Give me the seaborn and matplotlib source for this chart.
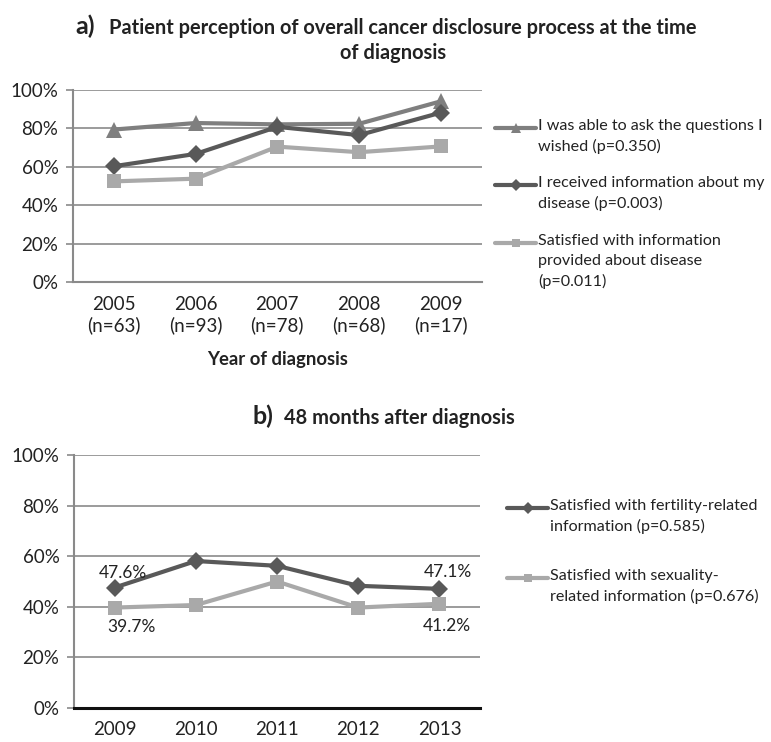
import numpy as np
import pandas as pd
import seaborn as sns
from matplotlib import pyplot as plt
from matplotlib.ticker import FixedLocator
from matplotlib.lines import Line2D

# panel a data
years_a = ["2005", "2006", "2007", "2008", "2009"]
n_a = ["(n=63)", "(n=93)", "(n=78)", "(n=68)", "(n=17)"]
ask_questions = [79.4, 82.8, 82.1, 82.4, 94.1]
received_info = [60.3, 66.7, 80.8, 76.5, 88.2]
satisfied_info = [52.4, 53.8, 70.5, 67.6, 70.6]
labels_a = ["I was able to ask the questions I\nwished (p=0.350)",
            "I received information about my\ndisease (p=0.003)",
            "Satisfied with information\nprovided about disease\n(p=0.011)"]

# panel b data
years_b = ["2009", "2010", "2011", "2012", "2013"]
fertility = [47.6, 58.1, 56.2, 48.3, 47.1]
sexuality = [39.7, 40.7, 50.0, 39.7, 41.2]
labels_b = ["Satisfied with fertility-related\ninformation (p=0.585)",
            "Satisfied with sexuality-\nrelated information (p=0.676)"]

sns.set_style("white")
plt.rcParams['font.family'] = ['Lato', 'DejaVu Sans']
plt.rcParams['font.size'] = 13.5

C_MID = "#7f7f7f"
C_DARK = "#595959"
C_LIGHT = "#a9a9a9"
C_GRID = "#8a8a8a"
TXT = "#222222"
W, H = 771, 742


def style_axis(ax, xlabels, xaxis_color, xaxis_lw):
    ax.set_xlim(-0.5, 4.5)
    ax.set_ylim(0, 100)
    ax.set_yticks(np.arange(0, 101, 20))
    ax.set_yticklabels([f"{v}%" for v in range(0, 101, 20)], color=TXT, fontsize=13.5)
    ax.yaxis.grid(True, color=C_GRID, lw=1.2)
    ax.set_axisbelow(True)
    ax.set_xticks(range(5))
    ax.set_xticklabels(xlabels, color=TXT, fontsize=13.5)
    ax.xaxis.set_minor_locator(FixedLocator(np.arange(-0.5, 5, 1)))
    ax.tick_params(axis="x", which="major", length=0, pad=10)
    ax.tick_params(axis="x", which="minor", length=6, width=1.2, color=xaxis_color, direction="out")
    ax.tick_params(axis="y", length=5, width=1.2, color=C_GRID, direction="out", left=True, pad=5.5)
    for s in ["top", "right"]:
        ax.spines[s].set_visible(False)
    ax.spines["left"].set_color(C_GRID)
    ax.spines["left"].set_linewidth(1.5)
    ax.spines["bottom"].set_color(xaxis_color)
    ax.spines["bottom"].set_linewidth(xaxis_lw)
    ax.set_xlabel("")
    ax.set_ylabel("")


def legend_entry(fig, x0, x1, y, label, color, marker, ms, fontsize):
    """Excel-like legend entry: handle lines up with the first text line (pixel coords)."""
    fy = 1 - y / H
    fig.add_artist(Line2D([x0 / W, x1 / W], [fy, fy], color=color, lw=3,
                          transform=fig.transFigure))
    fig.add_artist(Line2D([(x0 + x1) / 2 / W], [fy], color=color, marker=marker,
                          markersize=ms, markeredgewidth=0, transform=fig.transFigure))
    fig.text((x1 + 2) / W, 1 - (y - 9) / H, label, fontsize=fontsize, color=TXT,
             va="top", ha="left", linespacing=1.5)


fig = plt.figure(figsize=(W / 100, H / 100), dpi=100)

# ---------- panel a ----------
ax1 = fig.add_axes([0.0947, 0.620, 0.530, 0.2587])
x = np.arange(5)
series_a = [(ask_questions, C_MID, "^", 12),
            (received_info, C_DARK, "D", 9.5),
            (satisfied_info, C_LIGHT, "s", 10.5)]
for vals, col, mk, ms in series_a:
    sns.lineplot(x=x, y=vals, ax=ax1, color=col, lw=3, marker=mk, markersize=ms,
                 markeredgecolor=col, markeredgewidth=0)
style_axis(ax1, [f"{y}\n{n}" for y, n in zip(years_a, n_a)], C_GRID, 1.5)
ax1.text(0.5, -0.43, "Year of diagnosis", transform=ax1.transAxes, ha="center",
         fontsize=13.3, fontweight="bold", color=TXT)
for (vals, col, mk, ms), lab, ly in zip(series_a, labels_a, [128, 185, 243]):
    legend_entry(fig, 495, 536, ly, lab, col, mk, ms * 0.6, 11.6)

fig.text(0.098, 0.954, "a)", fontsize=18, fontweight="bold", color=TXT, va="baseline")
fig.text(0.141, 0.954, "Patient perception of overall cancer disclosure process at the time",
         fontsize=14.4, fontweight="bold", color=TXT, ha="left", va="baseline")
fig.text(0.51, 0.921, "of diagnosis", fontsize=14.4, fontweight="bold", color=TXT,
         ha="center", va="baseline")

# ---------- panel b ----------
ax2 = fig.add_axes([0.096, 0.0458, 0.5266, 0.341])
series_b = [(fertility, C_DARK, "D", 9.5),
            (sexuality, C_LIGHT, "s", 10.5)]
for vals, col, mk, ms in series_b:
    sns.lineplot(x=x, y=vals, ax=ax2, color=col, lw=3, marker=mk, markersize=ms,
                 markeredgecolor=col, markeredgewidth=0)
style_axis(ax2, years_b, "#111111", 2.2)
ax2.tick_params(axis="x", which="major", pad=9)

# value labels at the first and last year
ax2.text(0.1, fertility[0] + 2.5, f"{fertility[0]}%", ha="center", va="bottom", fontsize=12.5, color=TXT)
ax2.text(4.1, fertility[4] + 3.5, f"{fertility[4]}%", ha="center", va="bottom", fontsize=12.5, color=TXT)
ax2.text(0.21, sexuality[0] - 4.5, f"{sexuality[0]}%", ha="center", va="top", fontsize=12.5, color=TXT)
ax2.text(4.09, sexuality[4] - 5.5, f"{sexuality[4]}%", ha="center", va="top", fontsize=12.5, color=TXT)

for (vals, col, mk, ms), lab, ly in zip(series_b, labels_b, [508, 578]):
    legend_entry(fig, 507, 548, ly, lab, col, mk, ms * 0.6, 11.6)

fig.text(0.328, 0.428, "b)", fontsize=18, fontweight="bold", color=TXT, va="baseline")
fig.text(0.369, 0.428, "48 months after diagnosis", fontsize=14.4, fontweight="bold",
         color=TXT, va="baseline")

fig.savefig("out.png", dpi=100)
